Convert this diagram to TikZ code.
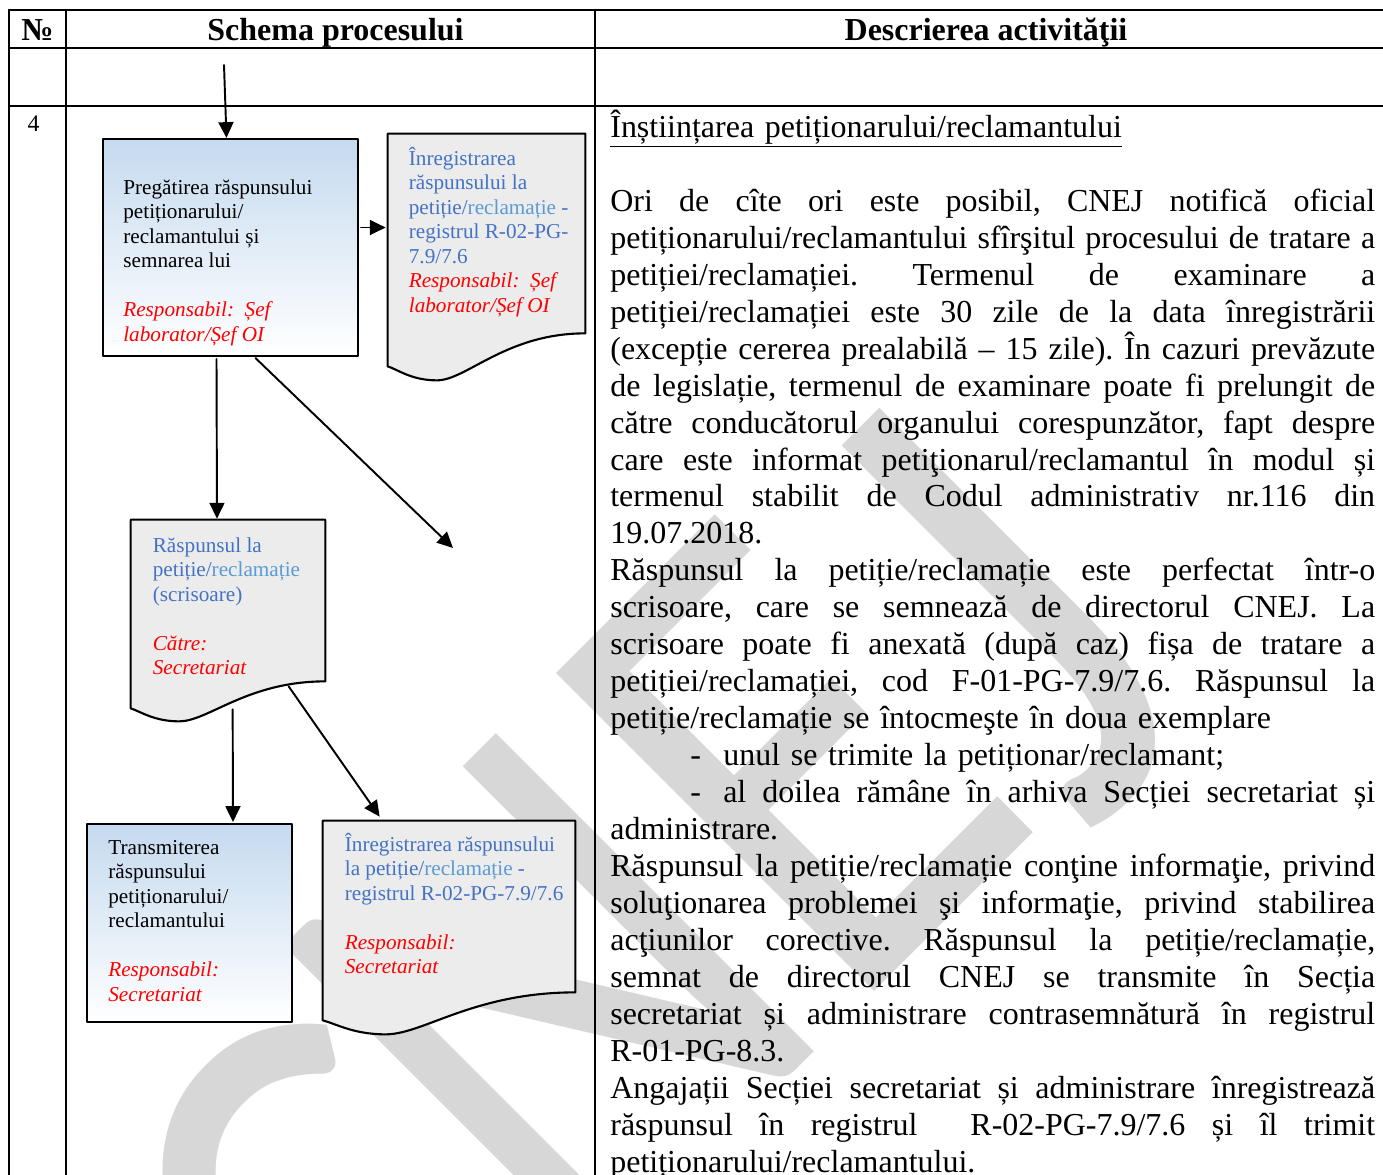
\documentclass[tikz,border=0pt]{standalone}
\usepackage{fontspec}
\setmainfont{Liberation Serif}
\newfontfamily\wmfont{Carlito}
\usetikzlibrary{arrows.meta,calc,positioning}

\definecolor{boxblue}{RGB}{197,218,239}
\definecolor{docgray}{RGB}{236,236,236}
\definecolor{txtblue}{RGB}{68,114,196}
\definecolor{txtlblue}{RGB}{91,155,213}
\definecolor{wmgray}{RGB}{215,215,215}
\definecolor{resred}{RGB}{255,0,0}

\newcommand{\pxu}{0.02cm}
\newcommand{\resp}[1]{\textcolor{resred}{\itshape #1}}
\newcommand{\lb}[1]{\textcolor{txtlblue}{#1}}
% one justified line of the description
\newcommand{\jl}[1]{\leavevmode\hbox to 435.3pt{\frenchspacing\spaceskip=0.25em plus 1fil\relax #1}}
\newcommand{\bul}{\hspace*{45.5pt}\makebox[18.8pt][l]{-}}
\newcommand{\boxstrut}{\rule{0pt}{12pt}}
\newcommand{\descstrut}{\rule{0pt}{20pt}}
% document outline: node, width, left drop, dip
\newcommand{\docwave}[4]{%
  \draw[docline] (#1.north west) -- (#1.north east) -- (#1.south east)
    .. controls ($(#1.south west)+({0.6*#2},0)$) and ($(#1.south west)+({0.4*#2},#4)$)
    .. ($(#1.south west)+({0.25*#2},#4)$)
    .. controls ($(#1.south west)+({0.12*#2},#4)$) and ($(#1.south west)+({0.05*#2},{#3+3})$)
    .. ($(#1.south west)+(0,#3)$) -- cycle;}

\tikzstyle{every path}=[line cap=round,line join=round]
\tikzstyle{tabline}=[line width=1.2pt]
\tikzstyle{arr}=[line width=1.1pt,-{Triangle[length=9pt,width=8.5pt]}]
\tikzstyle{procbox}=[draw=black,line width=1.2pt,top color=boxblue,bottom color=white,inner sep=0pt]
\tikzstyle{docbox}=[inner sep=0pt]
\tikzstyle{docline}=[draw=black,line width=1.2pt,fill=docgray]
\tikzstyle{boxtext}=[anchor=north west,inner sep=0pt,align=left,font=\fontsize{12.07pt}{13.94pt}\selectfont]
\tikzstyle{bluetext}=[boxtext,text=txtblue]
\tikzstyle{headtext}=[anchor=base,inner sep=0pt,font=\fontsize{18.2pt}{21pt}\selectfont\bfseries]
\tikzstyle{rowtext}=[anchor=base,inner sep=0pt,font=\fontsize{13.5pt}{16pt}\selectfont]
\tikzstyle{desctext}=[anchor=north west,inner sep=0pt,align=left,text width=435.3pt,font=\fontsize{18.2pt}{21.03pt}\selectfont]
\tikzstyle{wmark}=[anchor=base west,inner sep=0pt,rotate=45,yscale=1.17,text=wmgray,font=\wmfont\fontsize{341pt}{341pt}\selectfont]

\begin{document}
\begin{tikzpicture}
  \begin{scope}[x=\pxu,y=-\pxu]
    \useasboundingbox (0,0) rectangle (1383,1174);

    % watermark
    \node[wmark] (wm) at (345,1521) {\kern19.7pt\raisebox{-16.8pt}{C}\kern-19.7pt NE\kern5pt\raisebox{-20pt}{J}};

    % table
    \draw[tabline] (9,10) -- (1383,10);
    \draw[tabline] (9,48) -- (1383,48);
    \draw[tabline] (9,106) -- (1383,106);
    \foreach \xx in {9,66,595}
    \draw[tabline] (\xx,10) -- (\xx,1180);

    \node[headtext] (hnr) at (37.5,40) {№};
    \node[headtext] (hschema) at (335.5,40) {Schema procesului};
    \node[headtext] (hdesc) at (986,40) {Descrierea activităţii};
    \node[rowtext] (nr4) at (33.5,131) {4};

    % process boxes
    \node[procbox,minimum width=255*\pxu,minimum height=217*\pxu] (box1) at (230.5,247.5) {};
    \node[procbox,minimum width=205*\pxu,minimum height=198*\pxu] (box3) at (189.5,923) {};

    % documents
    \node[docbox,minimum width=197*\pxu,minimum height=199*\pxu] (doc1) at (486.5,233.5) {};
    \node[docbox,minimum width=194*\pxu,minimum height=161*\pxu] (doc2) at (228,600.5) {};
    \node[docbox,minimum width=252*\pxu,minimum height=171*\pxu] (doc3) at (449,906.5) {};
    \docwave{doc1}{197}{33}{47}
    \docwave{doc2}{194}{27}{40}
    \docwave{doc3}{252}{28}{42}

    % texts
    \node[boxtext] (box1txt) at (123,173) {\boxstrut Pregătirea răspunsului\\
      petiționarului/\\ reclamantului și\\ semnarea lui\\ \mbox{}\\
      \resp{Responsabil:\ \ Șef}\\ \resp{laborator/Șef OI}};
    \node[bluetext] (doc1txt) at (408.5,144) {\boxstrut Înregistrarea\\
      răspunsului la\\ petiție/\lb{reclamație} -\\ registrul R-02-PG-\\ 7.9/7.6\\
      \resp{Responsabil:\ \ Șef}\\ \resp{laborator/Șef OI}};
    \node[bluetext] (doc2txt) at (152.5,531) {\boxstrut Răspunsul la\\
      petiție/\lb{reclamație}\\ (scrisoare)\\ \mbox{}\\
      \resp{Către:}\\ \resp{Secretariat}};
    \node[boxtext] (box3txt) at (108,833) {\boxstrut Transmiterea\\
      răspunsului\\ petiționarului/\\ reclamantului\\ \mbox{}\\
      \resp{Responsabil:}\\ \resp{Secretariat}};
    \node[bluetext] (doc3txt) at (344.5,830) {\boxstrut Înregistrarea răspunsului\\
      la petiție/\lb{reclamație} -\\ registrul R-02-PG-7.9/7.6\\ \mbox{}\\
      \resp{Responsabil:}\\ \resp{Secretariat}};

    % connectors
    \coordinate (in) at (224,65);
    \coordinate (open) at (453,548);
    \draw[arr] (in) -- ($(box1.north)+(-4,0)$);
    \draw[arr] ($(box1.east)+(2,-20)$) -- ($(doc1.west)+(-2,-6)$);
    \draw[arr] ($(box1.south)+(-14,2)$) -- ($(doc2.north)+(-11,-1)$);
    \draw[arr] ($(box1.south)+(25,1)$) -- (open);
    \draw[arr] ($(doc2.south west)+(102,28)$) -- ($(box3.north)+(43.5,-1)$);
    \draw[arr] ($(doc2.south west)+(158,5)$) -- ($(doc3.north west)+(57,-4)$);

    % description
    \node[desctext] (desc) at (610,102) {\descstrut\underline{Înștiințarea petiționarului/reclamantului}\\
      \mbox{}\\
      \jl{Ori de cîte ori este posibil, CNEJ notifică oficial}\\
      \jl{petiționarului/reclamantului sfîrşitul procesului de tratare a}\\
      \jl{petiției/reclamației. Termenul de examinare a}\\
      \jl{petiției/reclamației este 30 zile de la data înregistrării}\\
      \jl{(excepție cererea prealabilă – 15 zile). În cazuri prevăzute}\\
      \jl{de legislație, termenul de examinare poate fi prelungit de}\\
      \jl{către conducătorul organului corespunzător, fapt despre}\\
      \jl{care este informat petiţionarul/reclamantul în modul și}\\
      \jl{termenul stabilit de Codul administrativ nr.116 din}\\
      19.07.2018.\\
      \jl{Răspunsul la petiție/reclamație este perfectat într-o}\\
      \jl{scrisoare, care se semnează de directorul CNEJ. La}\\
      \jl{scrisoare poate fi anexată (după caz) fișa de tratare a}\\
      \jl{petiției/reclamației, cod F-01-PG-7.9/7.6. Răspunsul la}\\
      petiție/reclamație se întocmeşte în doua exemplare\\
      \bul unul se trimite la petiționar/reclamant;\\
      \jl{\bul al doilea rămâne în arhiva Secției secretariat și}\\
      administrare.\\
      \jl{Răspunsul la petiție/reclamație conţine informaţie, privind}\\
      \jl{soluţionarea problemei şi informaţie, privind stabilirea}\\
      \jl{acţiunilor corective. Răspunsul la petiție/reclamație,}\\
      \jl{semnat de directorul CNEJ se transmite în Secția}\\
      \jl{secretariat și administrare contrasemnătură în registrul}\\
      R-01-PG-8.3.\\
      \jl{Angajații Secției secretariat și administrare înregistrează}\\
      \jl{răspunsul în registrul\ \ R-02-PG-7.9/7.6 și îl trimit}\\
      petiționarului/reclamantului.};
  \end{scope}
\end{tikzpicture}
\end{document}
